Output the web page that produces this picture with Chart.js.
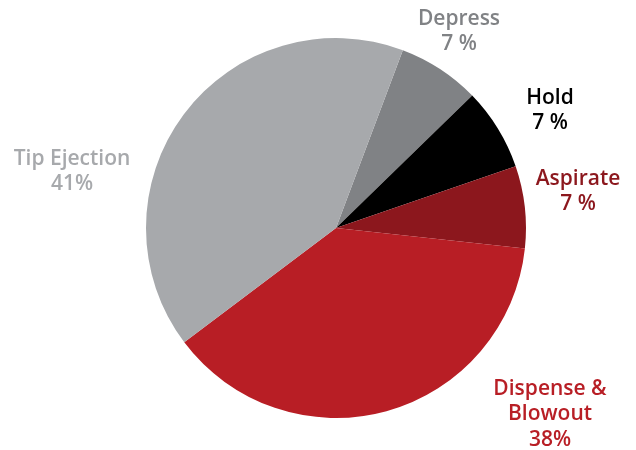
<!DOCTYPE html>
<html lang="en">
<head>
    <meta charset="UTF-8">
    <title>Pipetting Steps</title>
    <script src="https://cdn.jsdelivr.net/npm/chart.js"></script>
    <style>
        html, body {
            margin: 0;
            padding: 0;
            background: white;
        }
        #wrap {
            width: 636px;
            height: 450px;
        }
    </style>
</head>
<body>
    <div id="wrap"><canvas id="pieChart"></canvas></div>

    <script>
        const categories = ["Depress", "Hold", "Aspirate", "Dispense & Blowout", "Tip Ejection"];
        const shares = [7, 7, 7, 38, 41];
        const shareLabels = ["7 %", "7 %", "7 %", "38%", "41%"];
        const colors = ["#808285", "#000000", "#8c171d", "#b81e25", "#a7a9ac"];
        const labelColors = ["#808285", "#000000", "#8c171d", "#b81e25", "#a7a9ac"];

        // label text lines and where they sit (centre of first line)
        const labelLines = [["Depress"], ["Hold"], ["Aspirate"], ["Dispense &", "Blowout"], ["Tip Ejection"]];
        const labelSpots = [[459, 19], [550, 98], [578, 179], [550, 389], [72, 159]];

        const outsideLabels = {
            id: "outsideLabels",
            afterDraw(chart) {
                const ctx = chart.ctx;
                ctx.save();
                ctx.font = "600 21px 'Open Sans'";
                ctx.textAlign = "center";
                ctx.textBaseline = "middle";
                labelLines.forEach((lines, i) => {
                    ctx.fillStyle = labelColors[i];
                    const [x, y] = labelSpots[i];
                    const all = lines.concat([shareLabels[i]]);
                    all.forEach((t, j) => ctx.fillText(t, x, y + j * 25.5));
                });
                ctx.restore();
            }
        };

        new Chart(document.getElementById("pieChart"), {
            type: 'pie',
            data: {
                labels: categories,
                datasets: [{
                    data: shares,
                    backgroundColor: colors,
                    borderWidth: 0
                }]
            },
            options: {
                responsive: true,
                maintainAspectRatio: false,
                animation: false,
                rotation: 20.6,
                layout: {
                    padding: { top: 38, bottom: 32, left: 146, right: 110 }
                },
                plugins: {
                    legend: { display: false },
                    tooltip: { enabled: false }
                }
            },
            plugins: [outsideLabels]
        });
    </script>
</body>
</html>
